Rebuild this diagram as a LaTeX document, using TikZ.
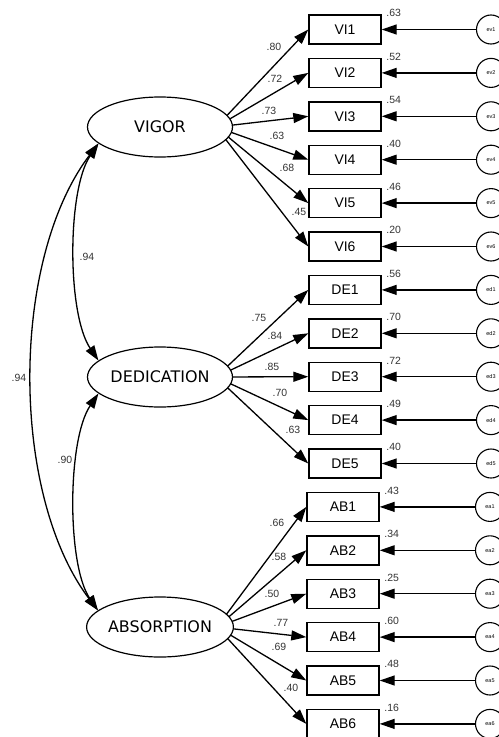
\documentclass[tikz,border=0pt]{standalone}
\usepackage{fontspec}
\setmainfont{Liberation Sans}
\newfontfamily\latfont{DejaVu Sans}
\usetikzlibrary{arrows.meta,calc,shapes.geometric}
\pgfdeclarelayer{background}
\pgfsetlayers{background,main}
\begin{document}
\begin{tikzpicture}[x=1bp,y=-1bp,
  latent/.style={ellipse, draw, line width=1.2bp, fill=white, minimum width=145bp, minimum height=60bp, inner sep=0pt, font=\latfont\fontsize{16}{16}\selectfont},
  obs/.style={rectangle, draw, line width=1.4bp, fill=white, minimum width=72bp, minimum height=29bp, inner sep=0pt, font=\fontsize{14}{14}\selectfont},
  err/.style={circle, draw, line width=1.1bp, fill=white, minimum size=29bp, inner sep=0pt, font=\fontsize{5.5}{5.5}\selectfont},
  lbl/.style={font=\fontsize{10.5}{10.5}\selectfont, inner sep=0pt, text=black!80},
  arr/.style={line width=1.3bp, -{Triangle[length=15bp,width=10bp]}},
  cov/.style={line width=1.3bp, {Triangle[length=15bp,width=10bp]}-{Triangle[length=15bp,width=10bp]}}
]
\useasboundingbox (0,0) rectangle (499,737);
\clip (0,0) rectangle (499,737);

\node[latent] (VIGOR) at (160,127) {VIGOR};
\node[latent] (DEDICATION) at (160,377) {DEDICATION};
\node[latent] (ABSORPTION) at (160,627) {ABSORPTION};

% observed variables and errors
\foreach \nm/\var/\er [count=\k from 0] in {VI1/.63/ev1,VI2/.52/ev2,VI3/.54/ev3,VI4/.40/ev4,VI5/.46/ev5,VI6/.20/ev6}{
  \pgfmathsetmacro\yy{29.5+\k*43.4}
  \node[obs] (\nm) at (345,\yy) {\nm};
  \node[err] (\er) at (491,\yy) {\er};
  \draw[arr] (\er) -- (\nm);
  \node[lbl] at ($(\nm.north east)+(12,-1)$) {\var};
}
\foreach \nm/\var/\er [count=\k from 6] in {DE1/.56/ed1,DE2/.70/ed2,DE3/.72/ed3,DE4/.49/ed4,DE5/.40/ed5}{
  \pgfmathsetmacro\yy{29.5+\k*43.4}
  \node[obs] (\nm) at (345,\yy) {\nm};
  \node[err] (\er) at (491,\yy) {\er};
  \draw[arr] (\er) -- (\nm);
  \node[lbl] at ($(\nm.north east)+(12,-1)$) {\var};
}
\foreach \nm/\var/\er [count=\k from 11] in {AB1/.43/ea1,AB2/.34/ea2,AB3/.25/ea3,AB4/.60/ea4,AB5/.48/ea5,AB6/.16/ea6}{
  \pgfmathsetmacro\yy{29.5+\k*43.4}
  \node[obs] (\nm) at (343,\yy) {\nm};
  \node[err] (\er) at (490,\yy) {\er};
  \draw[arr] (\er) -- (\nm);
  \node[lbl] at ($(\nm.north east)+(12,-1)$) {\var};
}

% loadings
\foreach \nm/\val/\lx/\ly in {VI1/.80/274/47,VI2/.72/275/79,VI3/.73/269/111,VI4/.63/277/136,VI5/.68/287/168,VI6/.45/299/212}{
  \begin{pgfonlayer}{background}
    \draw[arr] ($(VIGOR.east)+(-17,0)$) -- (\nm.west);
  \end{pgfonlayer}
  \node[lbl] at (\lx,\ly) {\val};
}
\foreach \nm/\val/\lx/\ly in {DE1/.75/259/318,DE2/.84/275/336,DE3/.85/272/367,DE4/.70/280/393,DE5/.63/293/430}{
  \begin{pgfonlayer}{background}
    \draw[arr] ($(DEDICATION.east)+(-17,0)$) -- (\nm.west);
  \end{pgfonlayer}
  \node[lbl] at (\lx,\ly) {\val};
}
\foreach \nm/\val/\lx/\ly in {AB1/.66/277/523,AB2/.58/279/557,AB3/.50/272/594,AB4/.77/281/623,AB5/.69/279/647,AB6/.40/291/688}{
  \begin{pgfonlayer}{background}
    \draw[arr] ($(ABSORPTION.east)+(-17,0)$) -- (\nm.west);
  \end{pgfonlayer}
  \node[lbl] at (\lx,\ly) {\val};
}

% covariances
\draw[cov] (VIGOR.195) .. controls (10,260) and (10,494) .. (ABSORPTION.165);
\draw[cov] (VIGOR.195) .. controls (67,190) and (67,314) .. (DEDICATION.165);
\draw[cov] (DEDICATION.195) .. controls (67,440) and (67,565) .. (ABSORPTION.165);
\node[lbl] (c1) at (87,257) {.94};
\node[lbl] (c2) at (65,460) {.90};
\node[lbl] (c3) at (19,378) {.94};
\end{tikzpicture}
\end{document}
